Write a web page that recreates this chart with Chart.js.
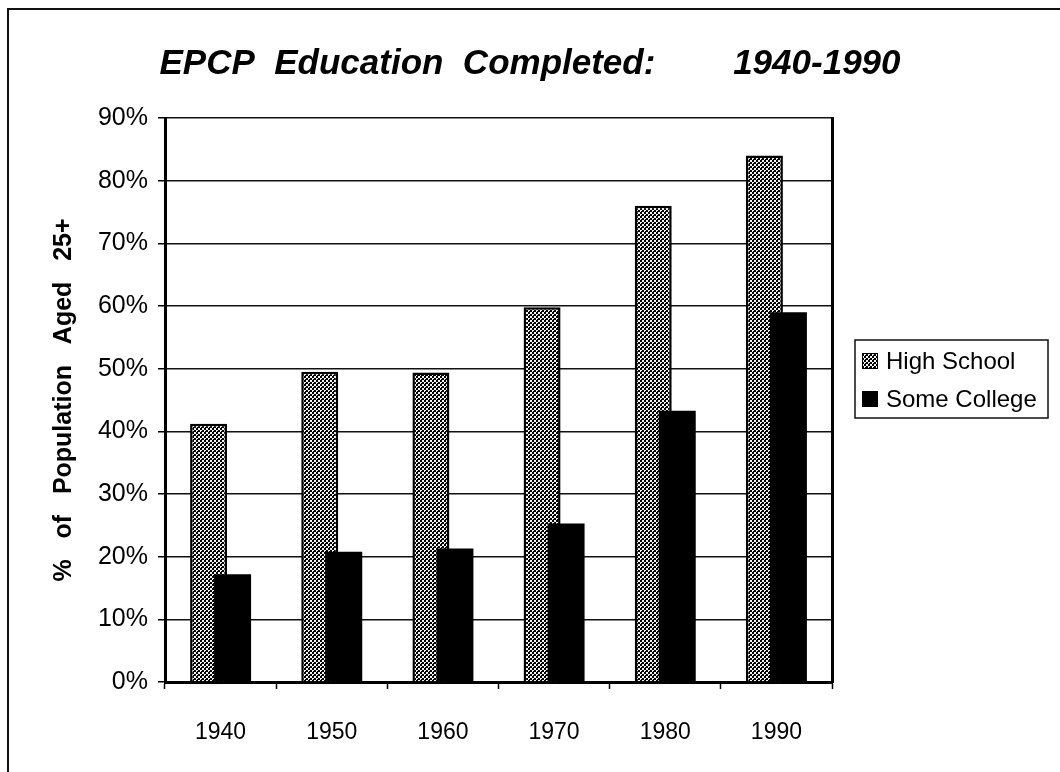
<!DOCTYPE html>
<html>
<head>
<meta charset="utf-8">
<script src="https://cdn.jsdelivr.net/npm/chart.js@4"></script>
<style>
  html, body { margin: 0; padding: 0; background: #fff; }
  #wrap { position: relative; width: 1060px; height: 772px; overflow: hidden; }
  #frame { position: absolute; left: 7px; top: 8px; right: -10px; bottom: -10px;
           border-left: 2px solid #111; border-top: 2px solid #111; pointer-events: none; }
  canvas { position: absolute; left: 0; top: 0; }
</style>
</head>
<body>
<div id="wrap">
  <canvas id="c" width="1060" height="772"></canvas>
  <div id="frame"></div>
</div>
<script>
// Census decades and share of population aged 25+ (percent)
const years = ['1940', '1950', '1960', '1970', '1980', '1990'];
const highSchool = [41.2, 49.5, 49.4, 59.8, 76.0, 84.0];
const someCollege = [17.2, 20.8, 21.3, 25.3, 43.3, 59.0];
const seriesNames = ['High School', 'Some College'];

const titleText = 'EPCP  Education  Completed:        1940-1990';
const yTitleText = '%   of   Population   Aged   25+';

const FONT = "'Liberation Sans', Arial, Helvetica, sans-serif";

// Halftone-style dot fill used for the High School bars
function dotPattern() {
  const t = document.createElement('canvas');
  t.width = 4; t.height = 4;
  const g = t.getContext('2d');
  g.fillStyle = '#f4f4f4';
  g.fillRect(0, 0, 4, 4);
  g.fillStyle = '#000000';
  g.fillRect(0, 0, 2, 2);
  g.fillRect(2, 2, 2, 2);
  g.fillRect(1, 3, 1, 1);
  return g.createPattern(t, 'repeat');
}
const hsFill = dotPattern();

// Draw datasets first-to-last so the right-hand (black) bar overlaps the dotted one
const overlapOrder = {
  id: 'overlapOrder',
  beforeDatasetsDraw(chart) {
    const ctx = chart.ctx, a = chart.chartArea;
    ctx.save();
    ctx.beginPath();
    ctx.rect(a.left, a.top - 3, a.right - a.left, a.bottom - a.top + 3);
    ctx.clip();
    chart.getSortedVisibleDatasetMetas().forEach(m => m.controller.draw());
    ctx.restore();
    return false;
  }
};

// Boxed legend to the right of the plot
const boxedLegend = {
  id: 'boxedLegend',
  afterDraw(chart) {
    const ctx = chart.ctx;
    const x = 855, y = 340, w = 193, h = 78;
    ctx.save();
    ctx.strokeStyle = '#111';
    ctx.lineWidth = 1.5;
    ctx.strokeRect(x, y, w, h);
    ctx.font = '24px ' + FONT;
    ctx.textBaseline = 'middle';
    ctx.textAlign = 'left';
    chart.data.datasets.forEach((ds, i) => {
      const cy = y + 21 + i * 38;
      ctx.fillStyle = ds.backgroundColor;
      ctx.fillRect(x + 7, cy - 8, 16, 16);
      ctx.strokeStyle = '#000';
      ctx.lineWidth = 1;
      ctx.strokeRect(x + 7.5, cy - 7.5, 15, 15);
      ctx.fillStyle = '#000';
      ctx.fillText(ds.label, x + 31, cy + 1);
    });
    ctx.restore();
  }
};

new Chart(document.getElementById('c'), {
  type: 'bar',
  data: {
    labels: years,
    datasets: [
      {
        label: seriesNames[0],
        data: highSchool,
        backgroundColor: hsFill,
        borderColor: '#000',
        borderWidth: 2.5,
        borderSkipped: 'bottom'
      },
      {
        label: seriesNames[1],
        data: someCollege,
        backgroundColor: '#000',
        borderWidth: 0
      }
    ]
  },
  plugins: [overlapOrder, boxedLegend],
  options: {
    responsive: false,
    animation: false,
    devicePixelRatio: 1,
    categoryPercentage: 0.432,
    barPercentage: 1.54,
    layout: { padding: { left: 5, right: 5, top: 43, bottom: 28 } },
    plugins: {
      legend: { display: false },
      tooltip: { enabled: false },
      title: {
        display: true,
        text: titleText,
        color: '#000',
        font: { family: FONT, size: 35, weight: 'bold', style: 'italic' },
        padding: { top: 0, bottom: 33 }
      }
    },
    scales: {
      x: {
        offset: true,
        afterFit(s) { s.height = 62; },
        grid: {
          display: true,
          offset: true,
          drawOnChartArea: false,
          drawTicks: true,
          tickLength: 7,
          tickWidth: 1.5,
          tickColor: '#000'
        },
        border: { display: true, color: '#000', width: 3 },
        ticks: {
          color: '#000',
          padding: 30,
          font: { family: FONT, size: 23 }
        }
      },
      y: {
        min: 0,
        max: 90,
        afterFit(s) { s.width = 160; },
        ticks: {
          stepSize: 10,
          color: '#000',
          padding: 10,
          font: { family: FONT, size: 25 },
          callback: v => v + '%'
        },
        grid: {
          color: '#111',
          lineWidth: 1.5,
          drawTicks: true,
          tickLength: 7,
          tickColor: '#000'
        },
        border: { display: true, color: '#000', width: 3 },
        title: {
          display: true,
          text: yTitleText,
          color: '#000',
          font: { family: FONT, size: 25, weight: 'bold' },
          padding: { top: 44, bottom: 0 }
        }
      },
      yRight: {
        position: 'right',
        min: 0,
        max: 90,
        afterFit(s) { s.width = 223; },
        ticks: { display: false },
        grid: { drawOnChartArea: false, drawTicks: false },
        border: { display: true, color: '#000', width: 3 }
      }
    }
  }
});
</script>
</body>
</html>
